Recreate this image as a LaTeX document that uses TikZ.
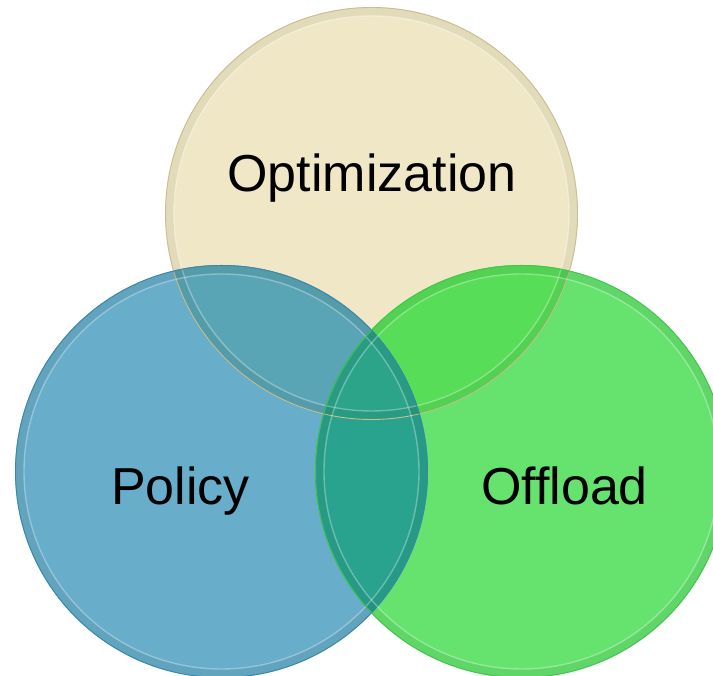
\documentclass[tikz,border=0pt]{standalone}
\usepackage{fontspec}
\setmainfont{Liberation Sans}
\usepackage{tikz}
\usetikzlibrary{
  positioning,
  backgrounds
}
\usepackage{color}

\definecolor{optcream}{HTML}{EFE7C5}
\definecolor{optedge}{HTML}{C9BE93}
\definecolor{polblue}{HTML}{68ADC9}
\definecolor{poledge}{HTML}{3A88A6}
\definecolor{offgreen}{HTML}{66E26E}
\definecolor{offedge}{HTML}{45C352}
\definecolor{bluecream}{HTML}{5AA5B5}
\definecolor{greencream}{HTML}{57DD57}
\definecolor{bluegreen}{HTML}{2AA38E}
\definecolor{allthree}{HTML}{2BA48A}

\def\rad{206.5}

\begin{document}
\begin{tikzpicture}[
      x=1pt,y=1pt,
      venn/.style={
         circle,
         minimum size=413pt,
         inner sep=0pt,
         outer sep=0pt,
         fill=#1
      },
      rim/.style={
         draw=#1,
         line width=0.9pt
      },
      bevel/.style={
         draw=white,
         draw opacity=0.3,
         line width=1.4pt
      },
      band/.style={
         draw=black,
         draw opacity=0.05,
         line width=8pt
      },
      setlabel/.style={
         font=\fontsize{52}{62}\selectfont,
         inner sep=0pt,
         anchor=base
      }
    ]
    \useasboundingbox (0,0) rectangle (713,676);
    \clip (0,0) rectangle (713,676);

    % the three sets
    \node (opt) [venn=optcream] at (371.5,462.5) {};
    \node (pol) [venn=polblue] at (221.5,204.5) {};
    \node (off) [venn=offgreen] at (521.5,204.5) {};

    % overlaps
    \begin{scope}
      \clip (pol.center) circle (\rad);
      \fill[bluecream] (opt.center) circle (\rad);
    \end{scope}
    \begin{scope}
      \clip (off.center) circle (\rad);
      \fill[greencream] (opt.center) circle (\rad);
    \end{scope}
    \begin{scope}
      \clip (pol.center) circle (\rad);
      \fill[bluegreen] (off.center) circle (\rad);
    \end{scope}
    \begin{scope}
      \clip (pol.center) circle (\rad);
      \clip (off.center) circle (\rad);
      \fill[allthree] (opt.center) circle (\rad);
    \end{scope}

    % glassy rims
    \foreach \c/\e in {opt/optedge,pol/poledge,off/offedge} {
      \draw[band] (\c.center) circle (\rad-4.5);
      \draw[bevel] (\c.center) circle (\rad-9);
      \draw[rim=\e] (\c.center) circle (\rad-0.5);
    }

    % labels
    \node (optlbl) [setlabel] at ([shift={(0.5,21.5)}]opt.center) {Optimization};
    \node (pollbl) [setlabel] at ([shift={(-41,-33.5)}]pol.center) {Policy};
    \node (offlbl) [setlabel] at ([shift={(43,-33.5)}]off.center) {Offload};
\end{tikzpicture}
\end{document}
